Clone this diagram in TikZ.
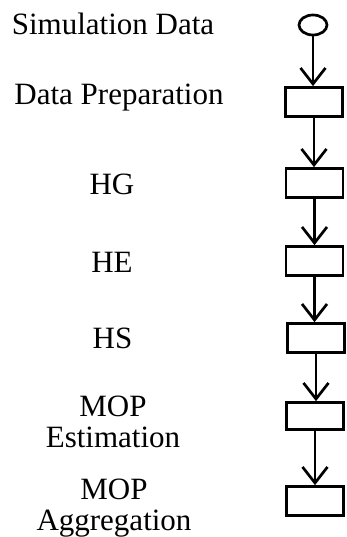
\documentclass[tikz,border=0pt]{standalone}
\usepackage{fontspec}
\setmainfont{Liberation Serif}
\usetikzlibrary{arrows.meta,shapes.geometric}
\begin{document}
\begin{tikzpicture}[x=1pt,y=-1pt,
  stagebox/.style={draw,line width=2.7pt,rectangle,minimum width=57pt,minimum height=29pt,inner sep=0pt},
  startnode/.style={draw,line width=2.7pt,ellipse,minimum width=28pt,minimum height=20pt,inner sep=0pt},
  flow/.style={line width=2.7pt,-{Straight Barb[length=16pt,width=25pt,line width=2.7pt]}},
  lbl/.style={anchor=base,font=\fontsize{31}{31}\selectfont,align=center,inner sep=0pt}]
\useasboundingbox (0,0) rectangle (346,537);

% process column
\node[startnode] (s0) at (313,25) {};
\node[stagebox] (s1) at (314,102) {};
\node[stagebox] (s2) at (314.5,183) {};
\node[stagebox] (s3) at (314.5,261) {};
\node[stagebox] (s4) at (316,338) {};
\node[stagebox,minimum height=27pt] (s5) at (315,416) {};
\node[stagebox] (s6) at (315,501) {};

\draw[flow] (s0.south) -- (s1.north -| s0.south);
\draw[flow] (s1.south) -- (s2.north -| s1.south);
\draw[flow] (s2.south) -- (s3.north -| s2.south);
\draw[flow] (s3.south) -- (s4.north -| s3.south);
\draw[flow] (s4.south) -- (s5.north -| s4.south);
\draw[flow] (s5.south) -- (s6.north -| s5.south);

% stage names (multi-line labels sit on their last baseline)
\node[lbl] (t0) at (113,35) {Simulation Data};
\node[lbl] (t1) at (119,105) {Data Preparation};
\node[lbl] (t2) at (112,194) {HG};
\node[lbl] (t3) at (112,272) {HE};
\node[lbl] (t4) at (112.5,348) {HS};
\node[lbl] (t5) at (113,447) {MOP\\Estimation};
\node[lbl] (t6) at (114,530) {MOP\\Aggregation};
\end{tikzpicture}
\end{document}
